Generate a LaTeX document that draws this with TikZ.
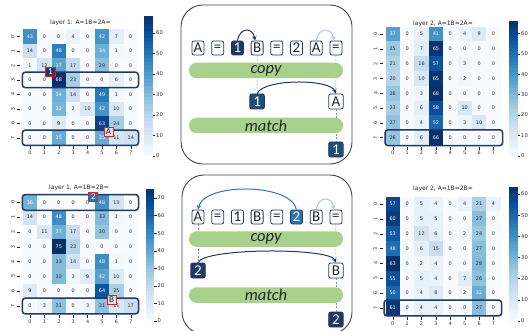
\documentclass[tikz,border=0pt]{standalone}
\usepackage{fontspec}
\newfontfamily\hmfont{DejaVu Sans}
\newfontfamily\tokfont{Carlito}

\definecolor{bl0}{RGB}{247,251,255}
\definecolor{bl1}{RGB}{222,235,247}
\definecolor{bl2}{RGB}{198,219,239}
\definecolor{bl3}{RGB}{158,202,225}
\definecolor{bl4}{RGB}{107,174,214}
\definecolor{bl5}{RGB}{66,146,198}
\definecolor{bl6}{RGB}{33,113,181}
\definecolor{bl7}{RGB}{8,81,156}
\definecolor{bl8}{RGB}{8,48,107}
\definecolor{navy}{RGB}{31,56,100}
\definecolor{midnavy}{RGB}{31,78,121}
\definecolor{medblue}{RGB}{46,117,182}
\definecolor{paleblue}{RGB}{165,200,232}
\definecolor{dashblue}{RGB}{91,155,213}
\definecolor{bargreen}{RGB}{169,209,142}
\definecolor{framegray}{RGB}{60,68,80}
\definecolor{ticktext}{RGB}{38,38,38}
\definecolor{markred}{RGB}{230,30,30}

% colour of a value on the Blues map -> hmc
\newcommand{\hmcol}[2]{%
  \pgfmathsetmacro\hmt{min(#1/#2,1)*8}%
  \pgfmathtruncatemacro\hmk{min(floor(\hmt),7)}%
  \pgfmathtruncatemacro\hmn{\hmk+1}%
  \pgfmathtruncatemacro\hmp{round((1-\hmt+\hmk)*100)}%
  \colorlet{hmc}{bl\hmk!\hmp!bl\hmn}}

% name, left, top, row height, vmax, rows
\newcommand{\heatmap}[6]{%
  \foreach \row [count=\r from 0] in {#6} {
    \foreach \val [count=\c from 0] in \row {
      \hmcol{\val}{#5}
      \pgfmathtruncatemacro\hmw{\val/#5>0.45}
      \ifnum\hmw=1 \colorlet{hmtx}{white}\else\colorlet{hmtx}{ticktext}\fi
      \node[hmcell, fill=hmc, text=hmtx, minimum height=#4pt] (#1-\r-\c) at ({#2+(\c+0.5)*14.4},{-(#3+(\r+0.5)*#4)}) {\val};
    }
  }
  \foreach \k in {0,...,7} {
    \draw[hmtick] ([yshift=-1.5pt]#1-7-\k.south) -- ++(0,-3) node[hmlab, anchor=north] (#1-x\k) {\k};
    \draw[hmtick] ([xshift=-2.5pt]#1-\k-0.west) -- ++(-3,0) node[hmlab, inner sep=2.5pt, rotate=90, anchor=south] (#1-y\k) {\k};
  }
}

% name, left, zero, scale, vmax, top tick
\newcommand{\cbar}[6]{%
  \foreach \i in {0,...,39} {
    \pgfmathsetmacro\cv{(\i+0.5)*#5/40}
    \hmcol{\cv}{#5}
    \fill[hmc] (#2,{-#3+\i*#5*#4/40}) rectangle ({#2+8.5},{-#3+(\i+1)*#5*#4/40+0.3});
  }
  \foreach \t in {0,10,...,#6}
    \draw[hmtick] ({#2+8.5},{-#3+\t*#4}) -- ++(2.5,0) node[cblab, anchor=west] (#1-\t) {\t};
}

\begin{document}
\begin{tikzpicture}[x=1pt,y=1pt,
  hmcell/.style={inner sep=0pt, outer sep=0pt, minimum width=14.4pt, font=\hmfont\fontsize{4.9}{5}\selectfont},
  hmtick/.style={draw=ticktext, line width=0.4pt},
  hmlab/.style={inner sep=1.5pt, text=ticktext, font=\hmfont\fontsize{4.8}{5}\selectfont},
  cblab/.style={inner sep=1pt, text=ticktext, font=\hmfont\fontsize{5.2}{6}\selectfont},
  hmtitle/.style={text=ticktext, font=\hmfont\fontsize{6}{7}\selectfont},
  hl/.style={draw=navy, line width=1.5pt, rounded corners=3pt},
  redmark/.style={draw=markred, line width=1pt, inner sep=0pt, font=\tokfont\fontsize{9}{9}\selectfont},
  panel/.style={draw=framegray, line width=0.9pt, rounded corners=22pt},
  tok/.style={draw=navy, fill=white, rounded corners=2pt, line width=0.8pt, inner sep=0pt, minimum width=12pt, minimum height=14pt, text=black!85, font=\tokfont\fontsize{15}{15}\selectfont},
  tokdark/.style={tok, fill=navy, text=white},
  tokmid/.style={tok, fill=medblue, text=white},
  tokbig/.style={tok, minimum width=14.5pt, minimum height=15pt},
  bar/.style={fill=bargreen, rounded corners=7.5pt, minimum width=154pt, minimum height=15.5pt, inner sep=0pt, text=black!85, font=\tokfont\itshape\fontsize{16.5}{16.5}\selectfont},
  link/.style={draw=dashblue, dash pattern=on 2pt off 1.5pt, line width=0.6pt},
  hop/.style={-stealth, line width=1pt}]
  \useasboundingbox (0,0) rectangle (529,-331);
  \clip (0,0) rectangle (529,-331);

  %left
  \node[hmtitle] (tl-title) at (80.4,-23.3) {layer 1: A=1B=2A=};
  \heatmap{tl}{22.8}{29.4}{14.45}{68}{{43,0,0,4,0,42,7,0},{14,0,48,0,0,34,1,0},{1,12,37,17,0,29,0,0},{0,0,68,23,0,0,6,0},{0,0,34,14,0,49,1,0},{0,0,32,2,10,42,10,0},{0,0,9,0,0,63,24,0},{0,0,35,0,0,35,11,14}}
  \cbar{tlc}{144}{156}{2.05}{68}{60}
  \draw[hl] ([shift={(-0.5,0.5)}]tl-3-0.north west) rectangle ([shift={(0.5,-0.5)}]tl-3-7.south east);
  \draw[hl] ([shift={(-0.5,0.5)}]tl-7-0.north west) rectangle ([shift={(0.5,-0.5)}]tl-7-7.south east);
  \node[redmark, fill=navy, text=white, minimum width=10pt, minimum height=9.5pt] (mk1) at (50.5,-72) {1};
  \node[redmark, fill=black!12, text=black!85, minimum width=9pt, minimum height=8.5pt] (mkA) at (108.5,-132) {A};

  \node[hmtitle] (bl-title) at (79,-188) {layer 1, A=1B=2B=};
  \heatmap{bl}{22.8}{195}{14.8}{75}{{36,0,0,0,0,48,13,0},{14,0,48,0,0,33,1,0},{0,11,37,17,0,30,0,0},{0,0,75,23,0,0,0,0},{0,0,33,14,0,48,1,0},{0,0,33,3,9,42,10,0},{9,0,0,0,0,64,25,0},{0,3,31,0,3,31,11,17}}
  \cbar{blc}{145.5}{321}{1.757}{75}{70}
  \draw[hl] ([shift={(-0.5,0.5)}]bl-0-0.north west) rectangle ([shift={(0.5,-0.5)}]bl-0-7.south east);
  \draw[hl] ([shift={(-0.5,0.5)}]bl-7-0.north west) rectangle ([shift={(0.5,-0.5)}]bl-7-7.south east);
  \node[redmark, fill=medblue, text=white, minimum width=9pt, minimum height=9pt] (mk2) at (93.3,-196.5) {2};
  \node[redmark, fill=black!12, text=black!85, minimum width=9pt, minimum height=8.5pt] (mkB) at (111.5,-300) {B};

  %middle
  \draw[panel] (181,-5) rectangle (352,-164);
  \foreach \tx/\ts [count=\i] in {A/tok,=/tok,1/tokdark,B/tok,=/tok,2/tok,A/tok,=/tok}
    \node[\ts] (ta\i) at ({198+19.7*(\i-1)},-48) {\tx};
  \node[tokbig, fill=midnavy, text=white] (ma1) at (257.1,-101.5) {1};
  \node[tokbig] (maA) at (335.9,-101.5) {A};
  \node[tokbig, fill=midnavy, text=white] (ba1) at (335.9,-149.5) {1};
  \draw[link] (ta4) -- (ma1);
  \draw[link] (ta8) -- (maA);
  \draw[link] (maA) -- (ba1);
  \node[bar] (copyA) at (266,-70.5) {copy};
  \node[bar] (matchA) at (266,-125.5) {match};
  \draw[hop, navy] (ta3.north) to[out=80, in=100, looseness=2] ([xshift=-2pt]ta4.north);
  \draw[hop, paleblue] (ta7.north) to[out=80, in=100, looseness=2] ([xshift=-2pt]ta8.north);
  \draw[hop, navy] (ma1.north) .. controls +(6,15) and +(-6,15) .. (maA.north);

  \draw[panel] (182,-175) rectangle (352,-334);
  \foreach \tx/\ts [count=\i] in {A/tok,=/tok,1/tok,B/tok,=/tok,2/tokmid,B/tok,=/tok}
    \node[\ts] (tb\i) at ({198+19.7*(\i-1)},-217) {\tx};
  \node[tokbig, fill=navy, text=white] (mb2) at (198,-270.5) {2};
  \node[tokbig] (mbB) at (335.9,-270.5) {B};
  \node[tokbig, fill=navy, text=white] (bb2) at (335.9,-319.5) {2};
  \draw[link] (tb1) -- (mb2);
  \draw[link] (tb8) -- (mbB);
  \draw[link] (mbB) -- (bb2);
  \node[bar] (copyB) at (266,-239) {copy};
  \node[bar] (matchB) at (266,-295) {match};
  \draw[hop, medblue] (tb6.north) .. controls +(-6,27) and +(6,27) .. (tb1.north);
  \draw[hop, paleblue] (tb7.north) to[out=80, in=100, looseness=2] ([xshift=-2pt]tb8.north);
  \draw[hop, navy] (mb2.north) .. controls +(6,15) and +(-6,15) .. (mbB.north);

  %right
  \node[hmtitle] (tr-title) at (443,-24) {layer 2, A=1B=2A=};
  \heatmap{tr}{385.5}{26.7}{14.8}{66}{{37,0,5,41,0,4,9,0},{25,0,7,65,0,0,0,0},{21,0,16,57,0,3,0,0},{20,0,10,65,0,2,0,0},{26,0,3,68,0,0,0,0},{23,0,6,58,0,10,0,0},{27,0,4,52,0,3,10,0},{26,0,6,66,0,0,0,0}}
  \cbar{trc}{509}{155.8}{2.04}{66}{60}
  \draw[hl] ([shift={(-0.5,0.5)}]tr-7-0.north west) rectangle ([shift={(2,-0.5)}]tr-7-7.south east);

  \node[hmtitle] (br-title) at (443,-189) {layer 2, A=1B=2B=};
  \heatmap{br}{385.5}{196.6}{14.85}{63}{{57,0,5,4,0,4,21,4},{60,0,5,5,0,0,27,0},{53,0,12,6,0,2,24,0},{48,0,6,15,0,0,27,0},{63,0,2,4,0,0,28,0},{55,0,5,4,0,7,26,0},{50,0,4,8,0,2,32,0},{61,0,4,4,0,0,27,0}}
  \cbar{brc}{509}{321}{2.117}{63}{60}
  \draw[hl] ([shift={(-1.5,0.5)}]br-7-0.north west) rectangle ([shift={(1,-0.5)}]br-7-7.south east);
\end{tikzpicture}
\end{document}
